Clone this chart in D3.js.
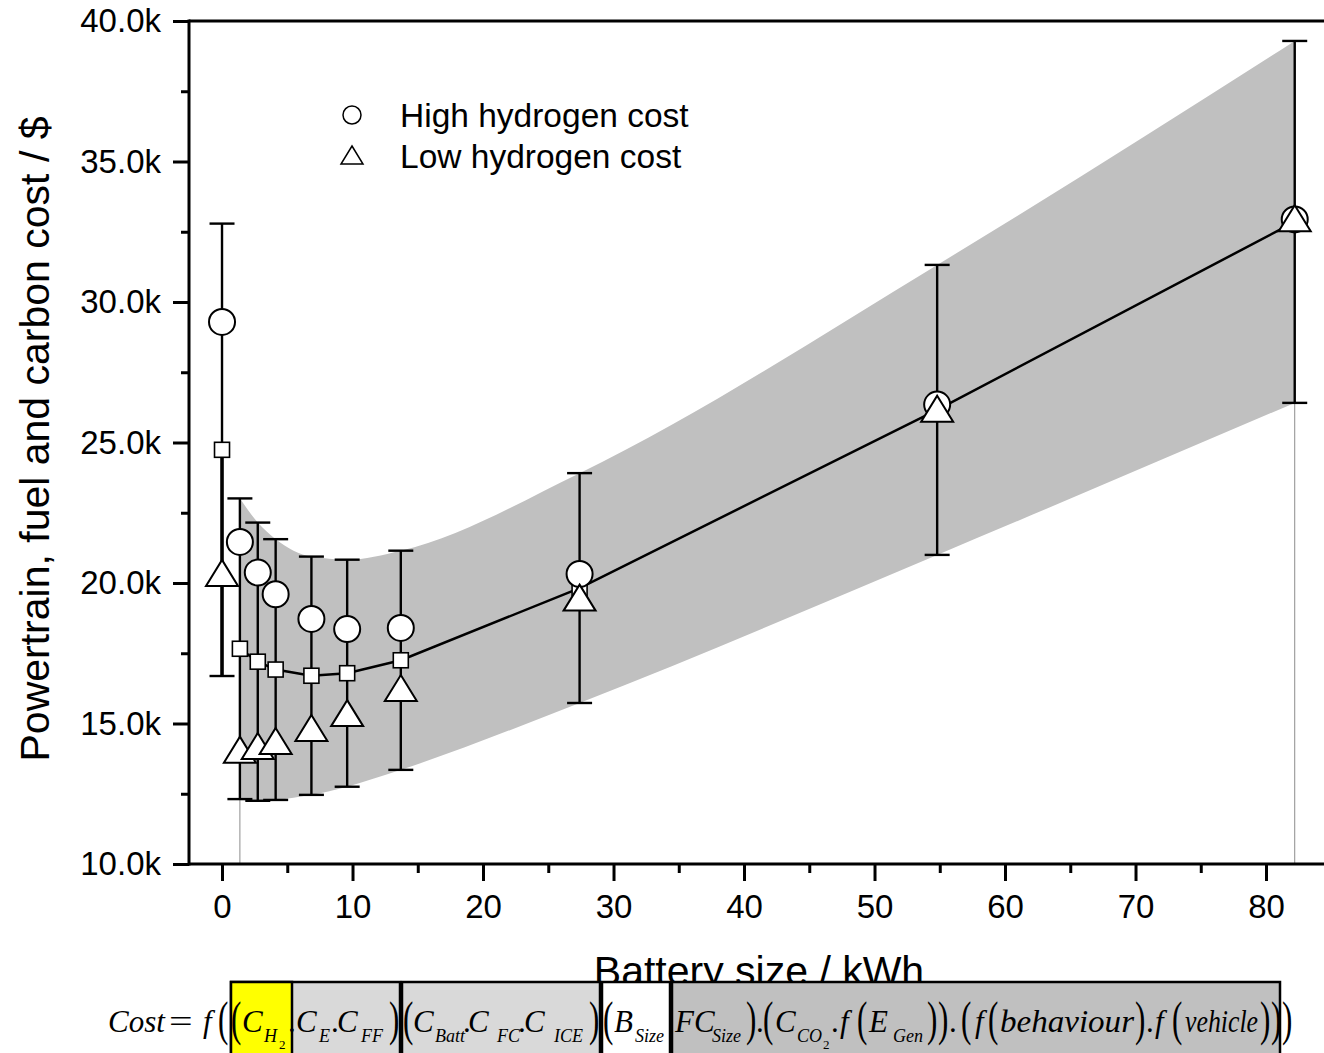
<!DOCTYPE html>
<html>
<head>
<meta charset="utf-8">
<script src="https://cdn.jsdelivr.net/npm/d3@7"></script>
<style>
  body { margin: 0; background: #fff; }
  svg { display: block; font-family: "Liberation Sans", Arial, sans-serif; }
</style>
</head>
<body>
<div id="chart"></div>
<script>
// Battery sizes (kWh) of the simulated vehicles.
var batterySize = [0, 1.37, 2.74, 4.11, 6.85, 9.59, 13.7, 27.4, 54.8, 82.2];

// Cost with high / low hydrogen price ($).
var highH2Cost = [29290, 21460, 20370, 19600, 18720, 18360, 18400, 20320, 26350, 32940];
var lowH2Cost  = [20360, 14070, 14200, 14380, 14840, 15370, 16260, 19480, 26200, 32980];

// Mean cost and its spread (the error bars and the grey band).
var meanCost = [24740, 17660, 17200, 16920, 16700, 16790, 17250, 19820, 26160, 32850];
var sdCost   = [8050, 5350, 4950, 4640, 4240, 4040, 3900, 4090, 5160, 6440];

// Axis ticks.
var xTicks = [0, 10, 20, 30, 40, 50, 60, 70, 80];
var xMinorTicks = [5, 15, 25, 35, 45, 55, 65, 75];
var yTicks = [10000, 15000, 20000, 25000, 30000, 35000, 40000];
var yMinorTicks = [12500, 17500, 22500, 27500, 32500, 37500];

var legendLabels = ["High hydrogen cost", "Low hydrogen cost"];

// Pieces of the cost formula: [text, left x, kind, width]
// kind: m = main, s = subscript, ss = sub-subscript, p = big parenthesis, o = upright operator
var formulaParts = [
  ["Cost", 108, "m"], ["=", 169, "o"], ["f", 203, "m"], ["(", 218, "p"], ["(", 231, "p"],
  ["C", 242, "m"], ["H", 264, "s"], ["2", 279, "ss"], [".", 288, "o"],
  ["C", 296, "m"], ["E", 319, "s"], [".", 331, "o"], ["C", 337, "m"], ["FF", 361, "s"], [")", 389, "p"],
  ["(", 403, "p"], ["C", 413, "m"], ["Batt", 435, "s"], [".", 463, "o"], ["C", 468, "m"],
  ["FC", 497, "s"], [".", 518, "o"], ["C", 524, "m"], ["ICE", 554, "s"], [")", 589, "p"],
  ["(", 603, "p"], ["B", 614, "m"], ["Size", 635, "s"],
  ["FC", 675, "m"], ["Size", 712, "s"], [")", 746, "p"], [".", 756, "o"], ["(", 763, "p"],
  ["C", 775, "m"], ["CO", 797, "s"], ["2", 823, "ss"], [".", 831, "o"], ["f", 840, "m"],
  ["(", 857, "p"], ["E", 869, "m"], ["Gen", 893, "s"], [")", 927, "p"], [")", 938, "p"], [".", 949, "o"],
  ["(", 961, "p"], ["f", 975, "m"], ["(", 988, "p"], ["behaviour", 1000, "m", 134], [")", 1135, "p"],
  [".", 1146, "o"], ["f", 1155, "m"], ["(", 1172, "p"], ["vehicle", 1185, "m", 73],
  [")", 1260, "p"], [")", 1271, "p"], [")", 1282, "p"]
];

// Coloured boxes behind the formula: [from x, to x, fill]
var formulaBoxes = [
  [231, 400, "#d9d9d9"], [231, 292, "#ffff00"], [402, 600, "#d9d9d9"],
  [602, 670, "#ffffff"], [672, 1280, "#c0c0c0"]
];

var width = 1324, height = 1053;

var svg = d3.select("#chart").append("svg")
  .attr("width", width)
  .attr("height", height);

var x = d3.scaleLinear().domain([-2.53, 85]).range([189, 189 + 87.53 * 13.05]),
    y = d3.scaleLinear().domain([10000, 40000]).range([864, 21]);

var plotLeft = x.range()[0], plotBottom = y.range()[0], plotTop = y.range()[1];

var pts = batterySize.map(function (b, i){
  return { x: b, high: highH2Cost[i], low: lowH2Cost[i], mean: meanCost[i], sd: sdCost[i] };
});
var banded = pts.slice(1);

// Grey band (mean +/- sd) from the first battery vehicle onwards.
var band = d3.area()
  .curve(d3.curveMonotoneX)
  .x(function (d){ return x(d.x); })
  .y0(function (d){ return y(d.mean - d.sd); })
  .y1(function (d){ return y(d.mean + d.sd); });

svg.append("path")
  .datum(banded)
  .attr("d", band)
  .attr("fill", "#c0c0c0");

// Thin drop lines at both ends of the band.
svg.selectAll("line.drop")
  .data([banded[0], banded[banded.length - 1]])
  .enter().append("line")
    .attr("class", "drop")
    .attr("x1", function (d){ return x(d.x); })
    .attr("x2", function (d){ return x(d.x); })
    .attr("y1", function (d){ return y(d.mean - d.sd); })
    .attr("y2", plotBottom)
    .attr("stroke", "#8c8c8c")
    .attr("stroke-width", 1);

// Error bars.
var capHalf = 12.5;
var eb = svg.append("g").attr("stroke", "#000").attr("stroke-width", 2.4).attr("fill", "none");
pts.forEach(function (d){
  var cx = x(d.x), y1 = y(d.mean + d.sd), y2 = y(d.mean - d.sd);
  eb.append("line").attr("x1", cx).attr("x2", cx).attr("y1", y1).attr("y2", y2);
  eb.append("line").attr("x1", cx - capHalf).attr("x2", cx + capHalf).attr("y1", y1).attr("y2", y1);
  eb.append("line").attr("x1", cx - capHalf).attr("x2", cx + capHalf).attr("y1", y2).attr("y2", y2);
});
// the bar at 0 kWh is drawn heavier below the mean
eb.append("line")
  .attr("x1", x(pts[0].x)).attr("x2", x(pts[0].x))
  .attr("y1", y(pts[0].mean)).attr("y2", y(pts[0].mean - pts[0].sd))
  .attr("stroke-width", 3.5);

// Mean line.
var line = d3.line()
  .x(function (d){ return x(d.x); })
  .y(function (d){ return y(d.mean); });

svg.append("path")
  .datum(banded)
  .attr("d", line)
  .attr("fill", "none")
  .attr("stroke", "#000")
  .attr("stroke-width", 2.5);

// Mean markers (squares).
var sq = 15;
svg.selectAll("rect.mean")
  .data(pts)
  .enter().append("rect")
    .attr("class", "mean")
    .attr("x", function (d){ return x(d.x) - sq / 2; })
    .attr("y", function (d){ return y(d.mean) - sq / 2; })
    .attr("width", sq)
    .attr("height", sq)
    .attr("fill", "#fff")
    .attr("stroke", "#000")
    .attr("stroke-width", 1.6);

// High hydrogen cost (circles).
svg.selectAll("circle.high")
  .data(pts)
  .enter().append("circle")
    .attr("class", "high")
    .attr("cx", function (d){ return x(d.x); })
    .attr("cy", function (d){ return y(d.high); })
    .attr("r", 13)
    .attr("fill", "#fff")
    .attr("stroke", "#000")
    .attr("stroke-width", 2);

// Low hydrogen cost (triangles).
function triangle(w, h){
  return "M0," + (-h / 2) + "L" + (w / 2) + "," + (h / 2) + "L" + (-w / 2) + "," + (h / 2) + "Z";
}
svg.selectAll("path.low")
  .data(pts)
  .enter().append("path")
    .attr("class", "low")
    .attr("d", triangle(32, 26))
    .attr("transform", function (d){ return "translate(" + x(d.x) + "," + y(d.low) + ")"; })
    .attr("fill", "#fff")
    .attr("stroke", "#000")
    .attr("stroke-width", 2)
    .attr("stroke-linejoin", "miter");

// Axes.
var fmt = function (v){ return d3.format(".1f")(v / 1000) + "k"; };

function styleAxis(g){
  g.select(".domain").remove();
  g.selectAll(".tick line").attr("stroke", "#000").attr("stroke-width", 3);
  g.selectAll(".tick text")
    .attr("fill", "#000")
    .style("font-size", "33px")
    .style("font-family", "'Liberation Sans', Arial, sans-serif");
}

svg.append("g")
  .attr("transform", "translate(0," + plotBottom + ")")
  .call(d3.axisBottom(x).tickValues(xTicks).tickSize(17).tickPadding(14).tickFormat(d3.format("d")))
  .call(styleAxis);

svg.append("g")
  .attr("transform", "translate(0," + plotBottom + ")")
  .call(d3.axisBottom(x).tickValues(xMinorTicks).tickSize(9).tickFormat(""))
  .call(styleAxis);

svg.append("g")
  .attr("transform", "translate(" + plotLeft + ",0)")
  .call(d3.axisLeft(y).tickValues(yTicks).tickSize(16).tickPadding(12).tickFormat(fmt))
  .call(styleAxis);

svg.append("g")
  .attr("transform", "translate(" + plotLeft + ",0)")
  .call(d3.axisLeft(y).tickValues(yMinorTicks).tickSize(8).tickFormat(""))
  .call(styleAxis);

// Frame lines (left, bottom, top).
var frame = svg.append("g").attr("stroke", "#000").attr("stroke-width", 3);
frame.append("line").attr("x1", plotLeft).attr("x2", plotLeft).attr("y1", plotTop - 1.5).attr("y2", plotBottom + 1.5);
frame.append("line").attr("x1", plotLeft).attr("x2", width).attr("y1", plotBottom).attr("y2", plotBottom);
frame.append("line").attr("x1", plotLeft).attr("x2", width).attr("y1", plotTop).attr("y2", plotTop);

// Axis titles.
svg.append("text")
  .attr("transform", "translate(49,439) rotate(-90)")
  .attr("text-anchor", "middle")
  .style("font-size", "41px")
  .text("Powertrain, fuel and carbon cost / $");

svg.append("text")
  .attr("x", 759)
  .attr("y", 985)
  .attr("text-anchor", "middle")
  .style("font-size", "41px")
  .text("Battery size / kWh");

// Legend.
var legend = svg.append("g");
legend.append("circle")
  .attr("cx", 352).attr("cy", 115).attr("r", 9)
  .attr("fill", "#fff").attr("stroke", "#000").attr("stroke-width", 1.5);
legend.append("path")
  .attr("d", triangle(22, 18))
  .attr("transform", "translate(352,155)")
  .attr("fill", "#fff").attr("stroke", "#000").attr("stroke-width", 1.5);
legend.selectAll("text")
  .data(legendLabels)
  .enter().append("text")
    .attr("x", 400)
    .attr("y", function (d, i){ return 127 + i * 41; })
    .style("font-size", "33.5px")
    .text(function (d){ return d; });

// Formula strip at the bottom.
var boxTop = 982;
svg.selectAll("rect.fbox")
  .data(formulaBoxes)
  .enter().append("rect")
    .attr("class", "fbox")
    .attr("x", function (d){ return d[0]; })
    .attr("y", boxTop)
    .attr("width", function (d){ return d[1] - d[0]; })
    .attr("height", height - boxTop + 10)
    .attr("fill", function (d){ return d[2]; })
    .attr("stroke", "#000")
    .attr("stroke-width", 2.5);

var baseY = 1032;
var fg = svg.append("g").style("font-family", "'Liberation Serif', 'Times New Roman', serif");
formulaParts.forEach(function (p){
  var t = fg.append("text").text(p[0]);
  if (p[2] === "m"){
    t.attr("x", p[1]).attr("y", baseY).style("font-size", "31px").style("font-style", "italic");
    if (p[3]) t.attr("textLength", p[3]).attr("lengthAdjust", "spacingAndGlyphs");
  } else if (p[2] === "s"){
    t.attr("x", p[1]).attr("y", baseY + 10).style("font-size", "18px").style("font-style", "italic");
  } else if (p[2] === "ss"){
    t.attr("x", p[1]).attr("y", baseY + 17).style("font-size", "13px");
  } else if (p[2] === "o"){
    if (p[0] === "="){
      t.attr("transform", "translate(" + p[1] + "," + baseY + ") scale(1.35,1)").style("font-size", "31px");
    } else {
      t.attr("x", p[1]).attr("y", baseY).style("font-size", "31px");
    }
  } else {
    t.attr("transform", "translate(" + p[1] + "," + (baseY + 3) + ") scale(1,1.6)")
      .style("font-size", "31px");
  }
});
</script>
</body>
</html>
